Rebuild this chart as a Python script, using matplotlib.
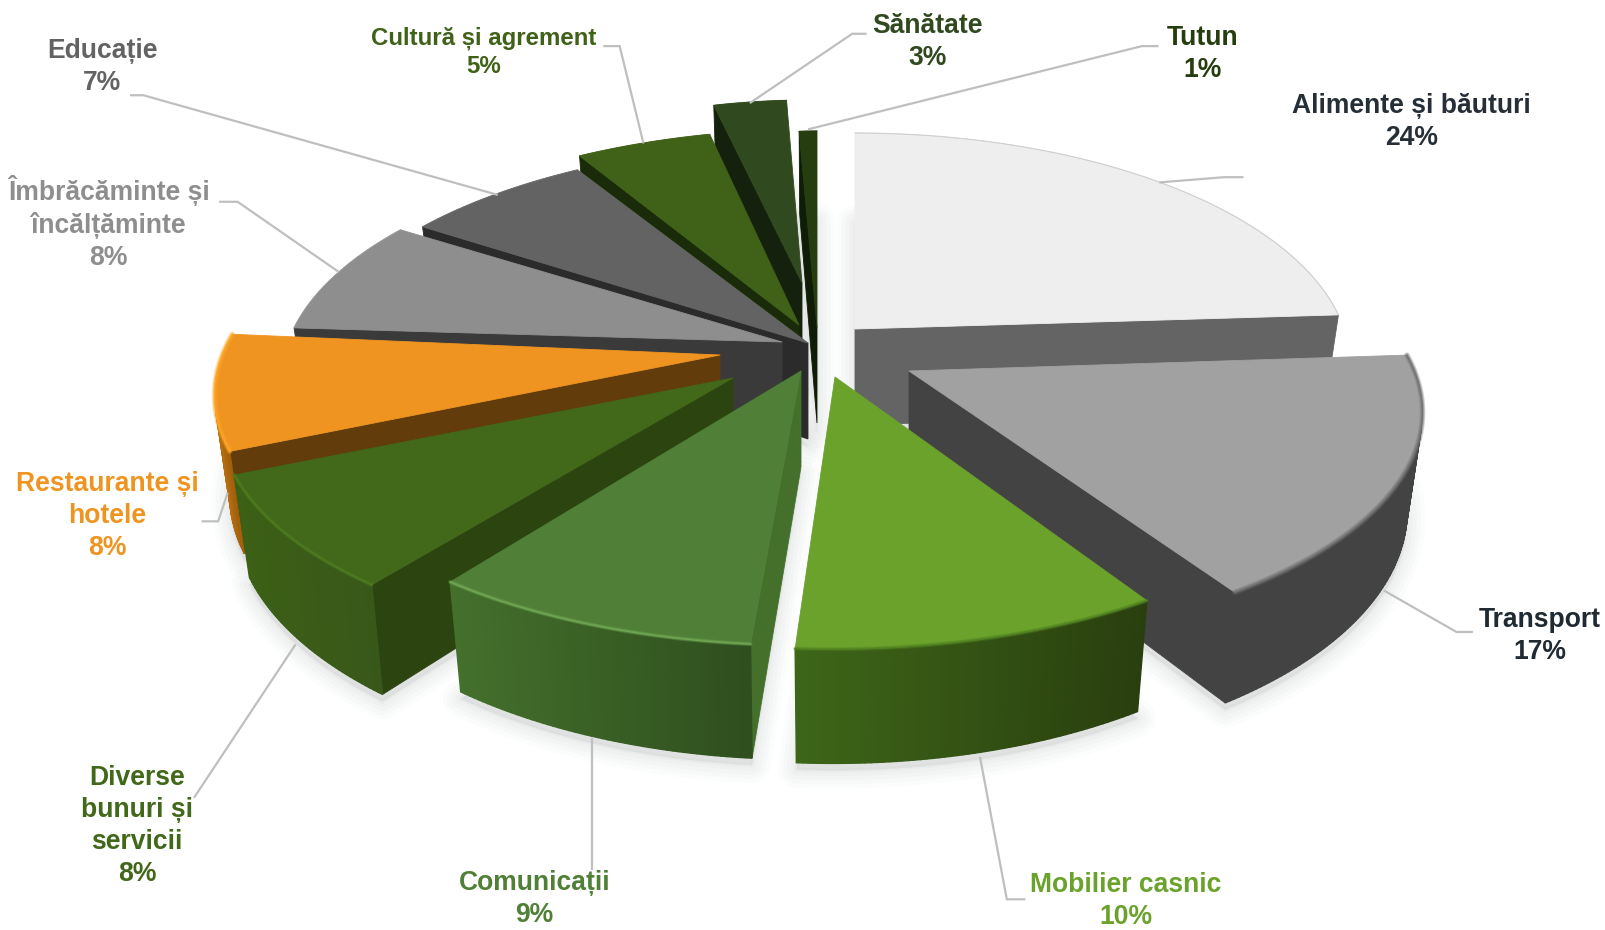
import numpy as np
import matplotlib
matplotlib.use("Agg")
import matplotlib.pyplot as plt
from matplotlib.patches import Polygon

# date (clockwise from top)
names = ["Alimente și băuturi", "Transport", "Mobilier casnic", "Comunicații", "Diverse\nbunuri și\nservicii",
         "Restaurante și\nhotele", "Îmbrăcăminte și\nîncălțăminte", "Educație", "Cultură și agrement", "Sănătate", "Tutun"]
values = [24, 17, 10, 9, 8, 8, 8, 7, 5, 3, 1]

# style per slice
top_cols = ["#eeeeee", "#a1a1a1", "#6aa22c", "#508037", "#42681a", "#ef9420", "#8e8e8e", "#636363", "#3f6118", "#30491e", "#253d0f"]
cut_cols = ["#646464", "#434343", "#2c4510", "#44702c", "#2c4510", "#633c0b", "#3a3a3a", "#2b2b2b", "#1a2b0a", "#14210c", "#0f1c06"]
side_left = ["#646464", "#434343", "#3d6618", "#44702c", "#3c6016", "#b86f10", "#3a3a3a", "#2b2b2b", "#1a2b0a", "#14210c", "#0f1c06"]
side_right = ["#646464", "#434343", "#2a3f0f", "#2f4f1e", "#38581a", "#9a5c0c", "#3a3a3a", "#2b2b2b", "#1a2b0a", "#14210c", "#0f1c06"]
rim_cols = ["#c4c4c4", "#6e6e6e", "#4f7f20", "#74ad58", "#4f7f20", "#ffa726", "#9a9a9a", "#6e6e6e", "#3f6118", "#30491e", "#253d0f"]
rim_lw = [1, 4, 3, 3, 3, 4, 1, 1, 1, 1, 1]
label_cols = ["#262f38", "#202a33", "#6aa22c", "#508037", "#42681a", "#ef9420", "#8e8e8e", "#636363", "#3f6118", "#30491e", "#253d0f"]
apex = [(855, 329), (909, 371), (835, 377), (801, 371), (733, 378), (720, 355), (782, 342), (808, 343), (799, 325), (802, 283), (817, 327)]
rx_scale = [0.965, 1, 1, 1, 1, 1, 1, 1, 1, 0.89, 0.65]
rot_deg = [0, -1.5, 0, 1.3, 2.6, 2.5, 0, 0, 0, 0, 0]
rim_shift = [(0, 0), (0, 4), (-2, 2), (1, 4), (0, 4), (8, 3), (13, 0), (9, -4), (20, 0), (9, 13), (0, 0)]
draw_order = [10, 9, 8, 7, 6, 0, 5, 1, 4, 2, 3]

S = 1606 / 1568
# label centre, font size (reference coords)
label_pos = [(1378, 119), (1503, 621), (1099, 880), (522, 878), (134, 806), (105, 504), (106, 218), (100, 65), (472, 51), (906, 41), (1174, 53)]
label_size = [19.1, 19.1, 19.1, 19.1, 19.1, 19.1, 19.1, 19.1, 17.3, 19.1, 19.1]
leaders = [[(1133, 178), (1195, 173), (1213, 173)],
           [(1352, 577), (1422, 617), (1437, 617)],
           [(957, 740), (983, 878), (1000, 878)],
           [(578, 722), (578, 848)],
           [(288, 630), (190, 778)],
           [(222, 482), (213, 509), (198, 509)],
           [(330, 265), (232, 197), (215, 197)],
           [(485, 190), (140, 93), (128, 93)],
           [(628, 139), (605, 45), (590, 45)],
           [(733, 100), (832, 33), (845, 33)],
           [(790, 126), (1115, 45), (1130, 45)]]

# camera
D = 6.28
F_X = 507 * D
F_Y = 196 * (D + 1)
H = 96
TAPER = 0.97


def project(theta, r, sx=1.0):
    X = r * np.sin(theta)
    Y = r * np.cos(theta)
    return sx * F_X * X / (D + Y), -F_Y * Y / (D + Y), Y


def hexmix(a, b, t):
    ca = np.array(matplotlib.colors.to_rgb(a))
    cb = np.array(matplotlib.colors.to_rgb(b))
    return tuple(ca + (cb - ca) * t)


def area(pts):
    p = np.array(pts)
    x, y = p[:, 0], p[:, 1]
    return 0.5 * np.sum(x * np.roll(y, -1) - np.roll(x, -1) * y)


fig = plt.figure(figsize=(16.06, 9.30), dpi=100)
ax = fig.add_axes([0, 0, 1, 1])
ax.set_xlim(0, 1606)
ax.set_ylim(930, 0)
ax.axis("off")

edges = np.cumsum([0] + values) / sum(values) * 2 * np.pi
slices = []
for i in range(len(values)):
    off = np.radians(rot_deg[i])
    th = np.linspace(edges[i] + off, edges[i + 1] + off, max(6, int(values[i] * 6)))
    x, y, Y = project(th, 1.0, rx_scale[i])
    ax0, ay0 = apex[i]
    x = x + rim_shift[i][0]
    y = y + rim_shift[i][1]
    top = np.column_stack([ax0 + x, ay0 + y])
    bot = np.column_stack([ax0 + x * TAPER, ay0 + y + H * D / (D + Y)])
    slices.append((top, bot, (ax0, ay0), (ax0, ay0 + H)))

# soft shadow under everything
for i in range(len(values)):
    top, bot, a, ab = slices[i]
    outline = np.vstack([[ab], bot]) + np.array([0, 7])
    for lw, al in zip([26, 20, 14, 8, 3], [0.05, 0.06, 0.07, 0.08, 0.1]):
        ax.add_patch(Polygon(outline, closed=True, fc="#c4c8c8", ec="#c4c8c8", lw=lw, alpha=al, joinstyle="round", zorder=1))

z = 2
for i in draw_order:
    top, bot, a, ab = slices[i]
    # cut faces
    for p, q, pb, qb in [(a, top[0], ab, bot[0]), (top[-1], a, bot[-1], ab)]:
        quad = [p, q, qb, pb]
        if area(quad) < 0:
            ax.add_patch(Polygon(quad, closed=True, fc=cut_cols[i], ec=cut_cols[i], lw=0.6, zorder=z))
            z += 1
    # outer wall, shaded strip by strip
    xs = top[:, 0]
    for k in range(len(top) - 1):
        quad = [top[k], top[k + 1], bot[k + 1], bot[k]]
        if area(quad) < 0:
            t = (xs[k] - xs.min()) / max(xs.max() - xs.min(), 1)
            c = hexmix(side_left[i], side_right[i], t)
            ax.add_patch(Polygon(quad, closed=True, fc=c, ec=c, lw=1.0, zorder=z))
    z += 1
    ax.add_patch(Polygon(np.vstack([[a], top]), closed=True, fc=top_cols[i], ec=top_cols[i], lw=0.6, joinstyle="round", zorder=z))
    z += 1
    # bevel: soft stroke along the rim
    for w, al in [(1.0, 0.3), (0.65, 0.4), (0.3, 0.7)]:
        ax.plot(top[:, 0], top[:, 1], color=rim_cols[i], lw=rim_lw[i] * w, alpha=al, solid_capstyle="round", zorder=z)
    z += 1

for i in range(len(values)):
    pts = np.array(leaders[i]) * S
    ax.plot(pts[:, 0], pts[:, 1], color="#bfbfbf", lw=1.6, zorder=z, solid_joinstyle="miter")
    lx, ly = label_pos[i]
    ax.text(lx * S, ly * S, f"{names[i]}\n{values[i]}%", ha="center", va="center", multialignment="center", color=label_cols[i],
            fontsize=label_size[i], fontweight="bold", family=["Liberation Sans", "DejaVu Sans"], linespacing=1.3, zorder=z + 1)

plt.savefig("out.png", dpi=100)
